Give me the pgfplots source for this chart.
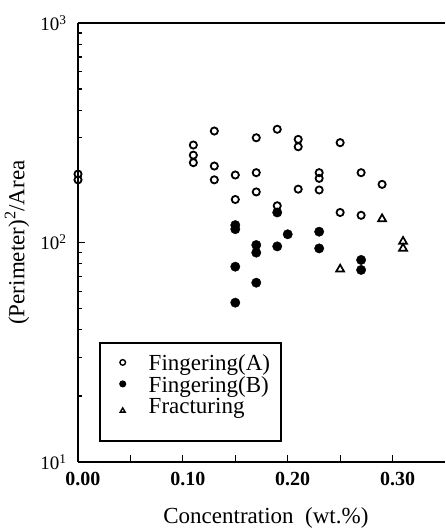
\documentclass[border=0pt]{standalone}
\usepackage{pgfplots}
\pgfplotsset{compat=1.18}
\usepackage{fontspec}
\setmainfont{Liberation Serif}

\begin{document}
\begin{tikzpicture}
\begin{axis}[
    name=ax,
    scale only axis, width=367pt, height=439pt,
    xmin=0, xmax=0.35,
    ymode=log, ymin=10, ymax=1000,
    clip=false,
    axis x line*=box, axis y line*=left,
    axis line style={-, line width=1.8pt},
    xtick pos=left, ytick pos=left,
    tick style={line width=1.2pt, black},
    major tick length=7pt, minor tick length=4pt,
    xtick={0,0.05,0.1,0.15,0.2,0.25,0.3},
    xticklabels={0.00,,0.10,,0.20,,0.30},
    xticklabel style={font=\fontsize{20}{20}\selectfont\bfseries, yshift=-7pt, xshift=5pt},
    ytick={10,100,1000},
    yticklabels={10\textsuperscript{1},10\textsuperscript{2},10\textsuperscript{3}},
    yticklabel style={font=\fontsize{19}{19}\selectfont, xshift=-8pt},
    xlabel={Concentration\ \ (wt.\%)},
    xlabel style={font=\fontsize{23}{23}\selectfont, at={(axis description cs:0.512,-0.128)}, anchor=center},
    ylabel={(Perimeter)\textsuperscript{2}/Area},
    ylabel style={font=\fontsize{23}{23}\selectfont, at={(axis description cs:-0.166,0.5)}, anchor=center},
    legend style={at={(axis description cs:0.057,0.0456)}, anchor=south west,
        draw=black, line width=1.6pt,
        inner xsep=11pt, inner ysep=12pt, row sep=1pt,
        nodes={inner sep=0pt, text height=15.5pt, text depth=5pt,
               font=\fontsize{23}{23}\selectfont}},
    legend cell align=left,
    legend image code/.code={
        \path[draw=none, fill=none] (-12pt,0pt) rectangle (26pt,10pt);
        \draw[#1, mark size=2.8pt, line width=1.4pt] plot coordinates {(0pt,3pt)};
    },
]
% Fingering(A)
\addplot[only marks, mark=o, mark size=3.6pt, line width=1.8pt, black] coordinates {
    (0,205) (0,193)
    (0.11,278) (0.11,250) (0.11,231)
    (0.13,322) (0.13,223) (0.13,193)
    (0.15,203) (0.15,157)
    (0.17,300) (0.17,208) (0.17,170)
    (0.19,328) (0.19,147)
    (0.21,295) (0.21,273) (0.21,175)
    (0.23,208) (0.23,196) (0.23,173.5)
    (0.25,285) (0.25,137)
    (0.27,208) (0.27,133)
    (0.29,184)
};
\addlegendentry{Fingering(A)}
% Fingering(B)
\addplot[only marks, mark=*, mark size=4.7pt, black] coordinates {
    (0.15,120) (0.15,115) (0.15,77.6) (0.15,53.2)
    (0.17,97.4) (0.17,89.9) (0.17,65.6)
    (0.19,137) (0.19,96)
    (0.20,109)
    (0.23,112) (0.23,94)
    (0.27,83.3) (0.27,75)
};
\addlegendentry{Fingering(B)}
% Fracturing
\addplot[only marks, mark=triangle, mark size=4.6pt, line width=1.7pt, black] coordinates {
    (0.25,75.5) (0.29,128) (0.31,101) (0.31,94)
};
\addlegendentry[text depth=15.5pt]{Fracturing}
\end{axis}
\pgfresetboundingbox
\path[use as bounding box] ([xshift=-78pt, yshift=-67pt]ax.south west) rectangle ([yshift=23pt]ax.north east);
\end{tikzpicture}
\end{document}
